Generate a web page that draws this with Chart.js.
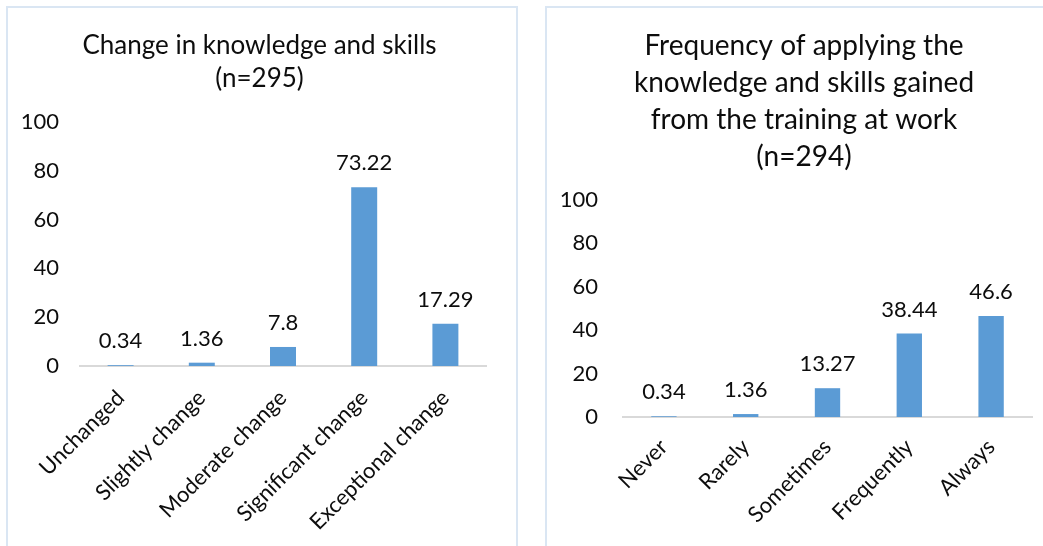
<!DOCTYPE html>
<html>
<head>
<meta charset="utf-8">
<script src="https://cdn.jsdelivr.net/npm/chart.js@4/dist/chart.umd.min.js"></script>
<style>
  html, body { margin: 0; padding: 0; background: #fff; overflow: hidden; }
  body { width: 1043px; height: 546px; position: relative; }
  .frame { position: absolute; border: 2px solid #dae6f3; box-sizing: border-box; }
  .wrap { position: absolute; }
</style>
</head>
<body>
<div class="frame" style="left:6px; top:6px; width:512px; height:600px;"></div>
<div class="frame" style="left:545px; top:6px; width:600px; height:600px;"></div>
<div class="wrap" style="left:0; top:0; width:519px; height:546px;"><canvas id="left"></canvas></div>
<div class="wrap" style="left:548px; top:0; width:512px; height:546px;"><canvas id="right"></canvas></div>
<script>
// Change in knowledge and skills (n=295), percent of respondents
const changeCategories = ['Unchanged', 'Slightly change', 'Moderate change', 'Significant change', 'Exceptional change'];
const changeValues = [0.34, 1.36, 7.8, 73.22, 17.29];

// Frequency of applying the knowledge and skills at work (n=294), percent
const frequencyCategories = ['Never', 'Rarely', 'Sometimes', 'Frequently', 'Always'];
const frequencyValues = [0.34, 1.36, 13.27, 38.44, 46.6];

const yTicks = [0, 20, 40, 60, 80, 100];

const FONT = 'Lato, "Open Sans", sans-serif';
const BAR_COLOR = '#5b9bd5';
const TEXT_COLOR = '#0d0d0d';

// Writes each bar's value just above it
const valueLabels = {
  id: 'valueLabels',
  afterDatasetsDraw(chart, args, opts) {
    const ctx = chart.ctx;
    ctx.save();
    ctx.font = opts.size + 'px ' + FONT;
    ctx.fillStyle = TEXT_COLOR;
    ctx.textAlign = 'center';
    ctx.textBaseline = 'middle';
    chart.data.datasets.forEach((ds, i) => {
      chart.getDatasetMeta(i).data.forEach((bar, j) => {
        ctx.fillText(String(ds.data[j]), bar.x, bar.y - opts.offset);
      });
    });
    ctx.restore();
  }
};

function makeChart(id, cfg) {
  return new Chart(document.getElementById(id), {
    type: 'bar',
    data: {
      labels: cfg.labels,
      datasets: [{
        data: cfg.values,
        backgroundColor: BAR_COLOR,
        categoryPercentage: 1,
        barPercentage: cfg.barPct
      }]
    },
    options: {
      responsive: true,
      maintainAspectRatio: false,
      animation: false,
      layout: { padding: 0 },
      plugins: {
        legend: { display: false },
        tooltip: { enabled: false },
        title: {
          display: true,
          text: cfg.title,
          color: TEXT_COLOR,
          font: { family: FONT, size: cfg.titleSize, weight: 'normal', lineHeight: cfg.titleLine / cfg.titleSize },
          padding: { top: cfg.titleTop, bottom: cfg.titleBottom }
        },
        valueLabels: { size: cfg.labelSize, offset: 24 }
      },
      scales: {
        x: {
          z: 1,
          grid: { display: false, drawTicks: false },
          border: { display: true, color: '#d9d9d9', width: 2 },
          ticks: {
            color: TEXT_COLOR,
            font: { family: FONT, size: cfg.labelSize },
            minRotation: 45, maxRotation: 45,
            padding: cfg.xPad,
            autoSkip: false
          },
          afterFit(scale) { scale.height = cfg.xHeight; }
        },
        y: {
          min: 0, max: 100,
          grid: { display: false, drawTicks: false },
          border: { display: false },
          afterBuildTicks(scale) { scale.ticks = yTicks.map(v => ({ value: v })); },
          ticks: {
            color: TEXT_COLOR,
            font: { family: FONT, size: cfg.labelSize },
            padding: cfg.yPad
          },
          afterFit(scale) { scale.width = cfg.yWidth; }
        },
        // empty right-hand margin so the title stays centred over the whole frame
        margin: {
          type: 'linear',
          position: 'right',
          display: true,
          grid: { display: false, drawTicks: false },
          border: { display: false },
          ticks: { display: false },
          afterFit(scale) { scale.width = cfg.rightGap; }
        }
      }
    },
    plugins: [valueLabels]
  });
}

makeChart('left', {
  labels: changeCategories,
  values: changeValues,
  title: ['Change in knowledge and skills', '(n=295)'],
  titleSize: 26, titleLine: 33, titleTop: 29, titleBottom: 27,
  labelSize: 22,
  yWidth: 80, yPad: 21, rightGap: 33,
  xHeight: 180, xPad: 19,
  barPct: 0.32
});

makeChart('right', {
  labels: frequencyCategories,
  values: frequencyValues,
  title: ['Frequency of applying the', 'knowledge and skills gained', 'from the training at work', '(n=294)'],
  titleSize: 28, titleLine: 37, titleTop: 27, titleBottom: 25,
  labelSize: 22,
  yWidth: 75, yPad: 25, rightGap: 28,
  xHeight: 129, xPad: 17,
  barPct: 0.31
});
</script>
</body>
</html>
